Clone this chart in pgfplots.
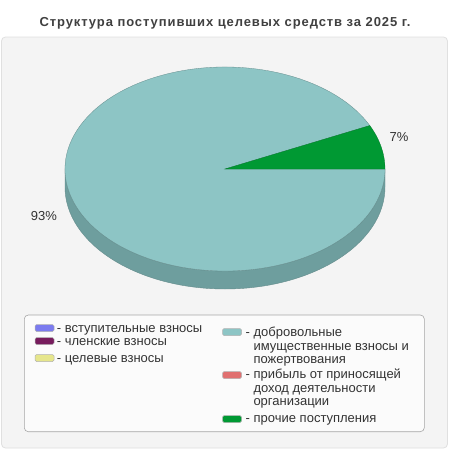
\documentclass[border=0pt]{standalone}
\usepackage{pgfplots}
\pgfplotsset{compat=1.18}
\usepackage{fontspec}
\setmainfont{Liberation Sans}
\definecolor{panel}{RGB}{244,244,244}
\definecolor{panelborder}{RGB}{224,224,224}
\definecolor{cteal}{RGB}{141,197,197}
\definecolor{ctealside}{RGB}{110,158,158}
\definecolor{ctealedge}{RGB}{100,140,140}
\definecolor{cgreen}{RGB}{0,153,51}
\definecolor{cblue}{RGB}{123,123,239}
\definecolor{cpurple}{RGB}{119,28,93}
\definecolor{cyellow}{RGB}{230,230,140}
\definecolor{cred}{RGB}{224,112,112}
\definecolor{titlecol}{RGB}{64,64,64}
\definecolor{txt}{RGB}{51,51,51}
\pgfplotstableread{
share label
93 {добровольные}
7 {прочие}
}\pietable
\pgfplotstablegetelem{1}{share}\of\pietable
\pgfmathsetmacro{\angb}{\pgfplotsretval*3.6}
\tikzset{sw/.style={draw=gray!60, line width=0.5pt, rounded corners=1.5pt}}
\begin{document}
\begin{tikzpicture}
\begin{axis}[
  scale only axis, width=450pt, height=450pt,
  xmin=0, xmax=450, ymin=0, ymax=450, y dir=reverse,
  hide axis, clip=false,
]
% background
\fill[white] (axis cs:0,0) rectangle (axis cs:450,450);
\filldraw[fill=panel, draw=panelborder, line width=0.8pt, rounded corners=4pt] (axis cs:1.5,37) rectangle (axis cs:447.5,448);
% title
\node[font=\fontsize{13}{15}\selectfont\bfseries\addfontfeatures{LetterSpace=7}, text=titlecol, anchor=base] at (axis cs:225,26.3) {Структура поступивших целевых средств за 2025 г.};
% pie side
\filldraw[fill=ctealside, draw=ctealedge, line width=0.4pt] (axis cs:65,169) -- (axis cs:65,187) arc[start angle=180, end angle=360, x radius=160pt, y radius=102pt] -- (axis cs:385,169) arc[start angle=0, end angle=-180, x radius=160pt, y radius=102pt] -- cycle;
% teal slice
\filldraw[fill=cteal, draw=ctealedge, line width=0.3pt] (axis cs:225,169) -- ++(\angb:160pt and 102pt) arc[start angle=\angb, end angle=360, x radius=160pt, y radius=102pt] -- cycle;
% green slice
\filldraw[fill=cgreen, draw=cgreen!80!black, line width=0.3pt] (axis cs:225,169) -- (axis cs:385,169) arc[start angle=0, end angle=\angb, x radius=160pt, y radius=102pt] -- cycle;
% labels
\node[font=\fontsize{13}{15}\selectfont, text=txt, anchor=base] at (axis cs:44,220) {93\%};
\node[font=\fontsize{13}{15}\selectfont, text=txt, anchor=base] at (axis cs:399,141.7) {7\%};
% legend box
\filldraw[fill=white!60!panel, draw=gray!70, line width=0.6pt, rounded corners=4pt] (axis cs:24.3,315) rectangle (axis cs:424.3,431.7);
\filldraw[sw, fill=cblue] (axis cs:35,324.5) rectangle (axis cs:54,331.5);
\filldraw[sw, fill=cpurple] (axis cs:35,337.5) rectangle (axis cs:54,344.5);
\filldraw[sw, fill=cyellow] (axis cs:35,354.5) rectangle (axis cs:54,361.5);
\filldraw[sw, fill=cteal] (axis cs:222.5,328.5) rectangle (axis cs:241.5,335.5);
\filldraw[sw, fill=cred] (axis cs:222.5,371.5) rectangle (axis cs:241.5,378.5);
\filldraw[sw, fill=cgreen] (axis cs:222.5,415.5) rectangle (axis cs:241.5,422.5);
\begin{scope}[every node/.style={font=\fontsize{13}{15}\selectfont, text=txt, anchor=base west, inner sep=0pt}]
\node at (axis cs:56.7,332.4) {- вступительные взносы};
\node at (axis cs:56.7,345.4) {- членские взносы};
\node at (axis cs:56.7,362.4) {- целевые взносы};
\node at (axis cs:245.5,336.4) {- добровольные};
\node at (axis cs:253.3,350) {имущественные взносы и};
\node at (axis cs:253.3,363.4) {пожертвования};
\node at (axis cs:245.5,378.6) {- прибыль от приносящей};
\node at (axis cs:253.3,392.4) {доход деятельности};
\node at (axis cs:253.3,405.7) {организации};
\node at (axis cs:245.5,422.4) {- прочие поступления};
\end{scope}
\end{axis}
\end{tikzpicture}
\end{document}
